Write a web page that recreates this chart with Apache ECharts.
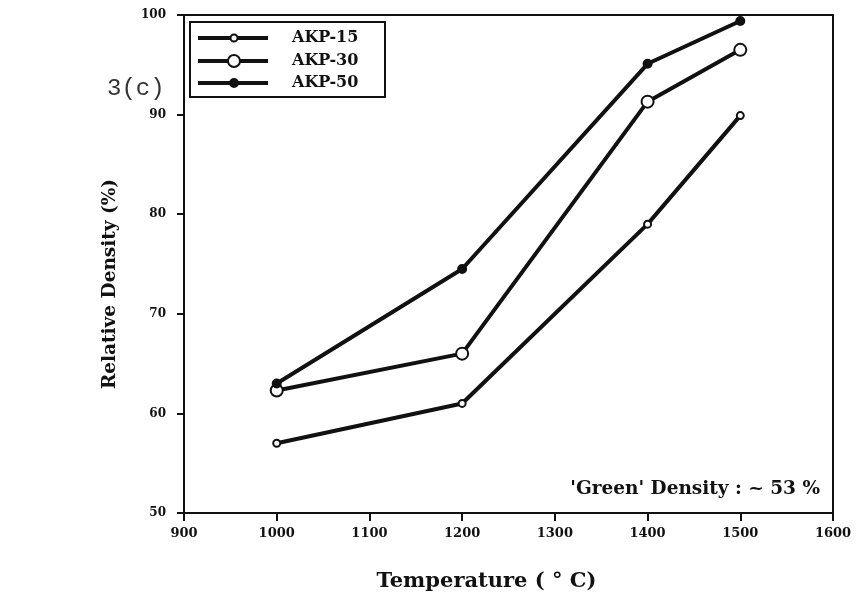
<!DOCTYPE html>
<html>
<head>
<meta charset="utf-8">
<script src="https://cdn.jsdelivr.net/npm/echarts@6/dist/echarts.min.js"></script>
<style>
  html, body { margin: 0; padding: 0; background: #fff; }
  #chart { width: 860px; height: 602px; }
</style>
</head>
<body>
<div id="chart"></div>
<script>
// Sintering temperature (°C)
const temperatures = [1000, 1200, 1400, 1500];
// Relative density (%) for each alumina powder
const akp15 = [57.0, 61.0, 79.0, 89.9];
const akp30 = [62.3, 66.0, 91.3, 96.5];
const akp50 = [63.0, 74.5, 95.1, 99.4];
const seriesNames = ['AKP-15', 'AKP-30', 'AKP-50'];
const xTicks = [900, 1600, 100];   // min, max, step
const yTicks = [50, 100, 10];

const FONT = 'DejaVu Serif';
const INK = '#111';
const pairs = ys => temperatures.map((t, i) => [t, ys[i]]);

// marker look per series: [size, fill]
const markers = [[7, '#fff'], [12, '#fff'], [8, INK]];

const chart = echarts.init(document.getElementById('chart'), null, { renderer: 'canvas' });

const lineSeries = (idx, ys) => ({
  name: seriesNames[idx],
  type: 'line',
  data: pairs(ys),
  symbol: 'circle',
  symbolSize: markers[idx][0],
  showAllSymbol: true,
  lineStyle: { color: INK, width: 4 },
  itemStyle: { color: markers[idx][1], borderColor: INK, borderWidth: 2 },
  emphasis: { disabled: true },
  z: 3
});

// Key box drawn in the upper-left corner of the plot
const keyBox = { x: 190, y: 22, w: 195, h: 75 };
const keyRows = [38, 61, 83];
const keyGraphics = [
  {
    type: 'rect',
    shape: { x: keyBox.x, y: keyBox.y, width: keyBox.w, height: keyBox.h },
    style: { fill: '#fff', stroke: INK, lineWidth: 2 },
    z: 10
  }
];
seriesNames.forEach((name, i) => {
  const y = keyRows[i];
  keyGraphics.push(
    { type: 'line', shape: { x1: 198, y1: y, x2: 268, y2: y }, style: { stroke: INK, lineWidth: 4 }, z: 11 },
    { type: 'circle', shape: { cx: 234, cy: y, r: markers[i][0] / 2 }, style: { fill: markers[i][1], stroke: INK, lineWidth: 2 }, z: 12 },
    { type: 'text', x: 292, y: y, style: { text: name, font: 'bold 16px "DejaVu Serif"', fill: INK, textVerticalAlign: 'middle' }, z: 12 }
  );
});

chart.setOption({
  animation: false,
  backgroundColor: '#fff',
  grid: { left: 184, right: 27, top: 15, bottom: 89, show: true, borderColor: INK, borderWidth: 2 },
  xAxis: {
    type: 'value',
    min: xTicks[0], max: xTicks[1], interval: xTicks[2],
    name: 'Temperature ( \u00B0 C)',
    nameLocation: 'middle',
    nameGap: 58,
    nameTextStyle: { fontFamily: FONT, fontWeight: 'bold', fontSize: 21, color: INK, padding: [0, 44, 0, 0] },
    axisLine: { lineStyle: { color: INK, width: 2 } },
    axisTick: { show: true, inside: false, length: 8, lineStyle: { color: INK, width: 2 } },
    axisLabel: { fontFamily: FONT, fontWeight: 'bold', fontSize: 13, color: INK, margin: 14, formatter: v => String(v) },
    splitLine: { show: false }
  },
  yAxis: {
    type: 'value',
    min: yTicks[0], max: yTicks[1], interval: yTicks[2],
    name: 'Relative Density (%)',
    nameLocation: 'middle',
    nameGap: 64,
    nameTextStyle: { fontFamily: FONT, fontWeight: 'bold', fontSize: 18.5, color: INK, padding: [0, 40, 0, 0] },
    axisLine: { lineStyle: { color: INK, width: 2 } },
    axisTick: { show: true, inside: false, length: 7, lineStyle: { color: INK, width: 2 } },
    axisLabel: { fontFamily: FONT, fontWeight: 'bold', fontSize: 12, color: INK, margin: 18, formatter: v => String(v) },
    splitLine: { show: false }
  },
  graphic: [
    {
      type: 'text', left: 107, top: 77,
      style: { text: '3(c)', font: '24px "Liberation Mono"', fill: '#333' }
    },
    {
      type: 'text', right: 40, top: 480,
      style: { text: "'Green' Density : ~ 53 %", font: 'bold 18.5px "DejaVu Serif"', fill: INK }
    }
  ].concat(keyGraphics),
  series: [
    lineSeries(0, akp15),
    lineSeries(1, akp30),
    lineSeries(2, akp50)
  ]
});
</script>
</body>
</html>
